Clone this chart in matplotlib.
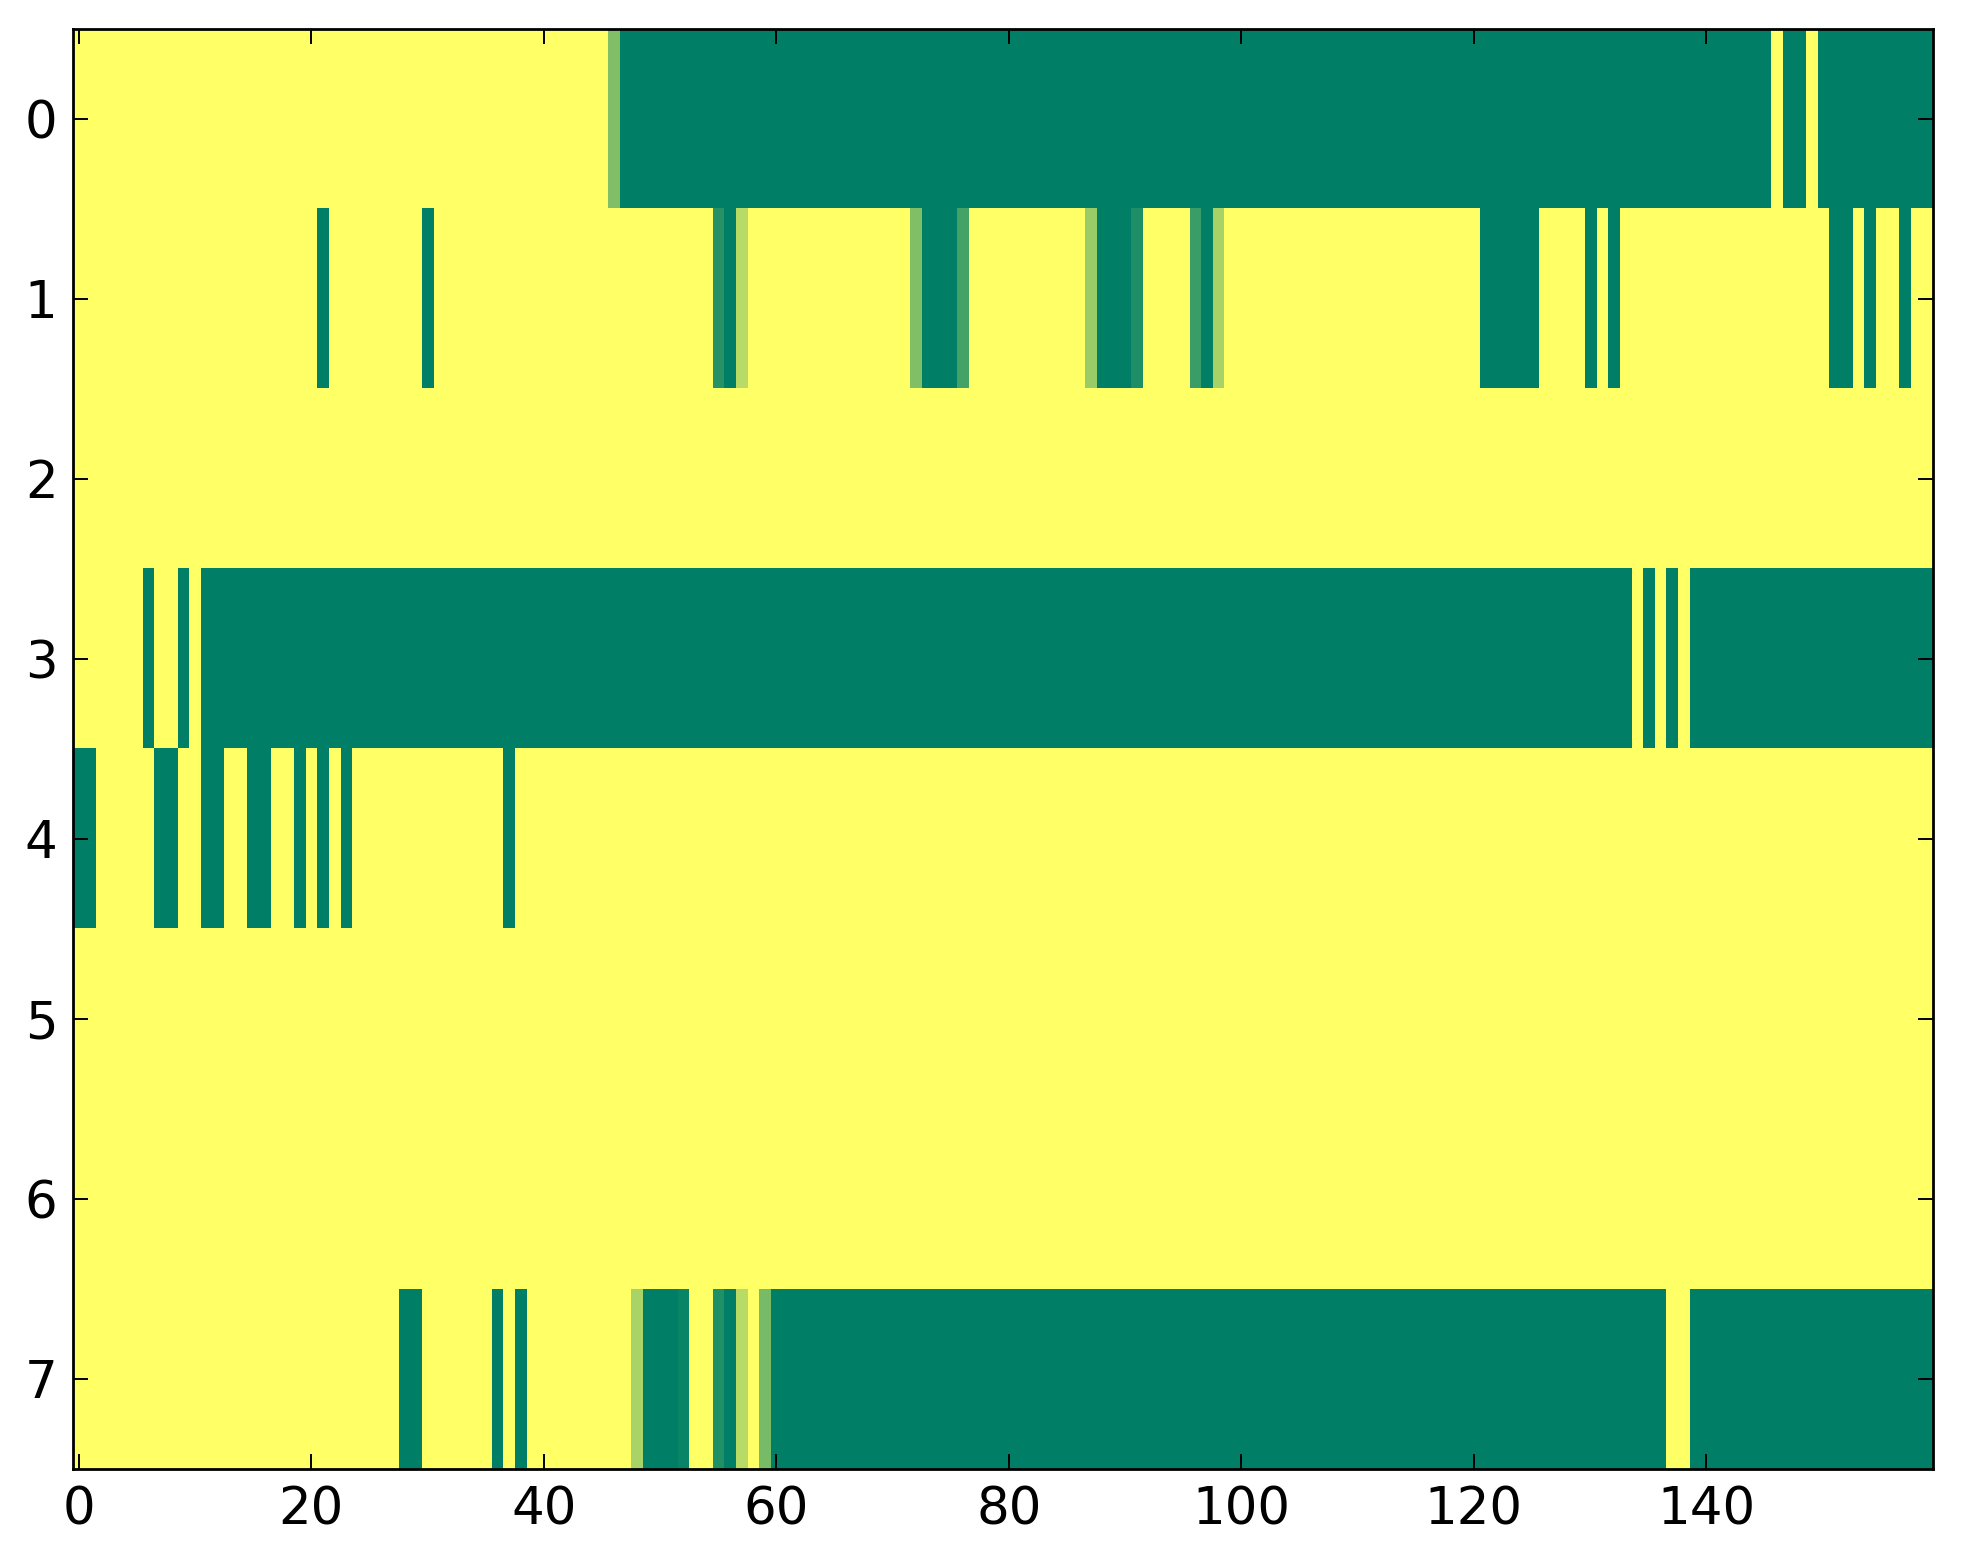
import numpy as np
import matplotlib
matplotlib.use("Agg")
import matplotlib.pyplot as plt

# one row of 160 values per series (0 = green, 1 = yellow)
row0 = [1, 1, 1, 1, 1, 1, 1, 1, 1, 1, 1, 1, 1, 1, 1, 1, 1, 1, 1, 1,
        1, 1, 1, 1, 1, 1, 1, 1, 1, 1, 1, 1, 1, 1, 1, 1, 1, 1, 1, 1,
        1, 1, 1, 1, 1, 1, 0.5, 0, 0, 0, 0, 0, 0, 0, 0, 0, 0, 0, 0, 0,
        0, 0, 0, 0, 0, 0, 0, 0, 0, 0, 0, 0, 0, 0, 0, 0, 0, 0, 0, 0,
        0, 0, 0, 0, 0, 0, 0, 0, 0, 0, 0, 0, 0, 0, 0, 0, 0, 0, 0, 0,
        0, 0, 0, 0, 0, 0, 0, 0, 0, 0, 0, 0, 0, 0, 0, 0, 0, 0, 0, 0,
        0, 0, 0, 0, 0, 0, 0, 0, 0, 0, 0, 0, 0, 0, 0, 0, 0, 0, 0, 0,
        0, 0, 0, 0, 0, 0, 1, 0, 0, 1, 0, 0, 0, 0, 0, 0, 0, 0, 0, 0]

row1 = [1, 1, 1, 1, 1, 1, 1, 1, 1, 1, 1, 1, 1, 1, 1, 1, 1, 1, 1, 1,
        1, 0, 1, 1, 1, 1, 1, 1, 1, 1, 0, 1, 1, 1, 1, 1, 1, 1, 1, 1,
        1, 1, 1, 1, 1, 1, 1, 1, 1, 1, 1, 1, 1, 1, 1, 0.15, 0, 0.72, 1, 1,
        1, 1, 1, 1, 1, 1, 1, 1, 1, 1, 1, 1, 0.5, 0, 0, 0, 0.27, 1, 1, 1,
        1, 1, 1, 1, 1, 1, 1, 0.6, 0, 0, 0, 0.12, 1, 1, 1, 1, 0.23, 0, 0.65, 1,
        1, 1, 1, 1, 1, 1, 1, 1, 1, 1, 1, 1, 1, 1, 1, 1, 1, 1, 1, 1,
        1, 0, 0, 0, 0, 0, 1, 1, 1, 1, 0, 1, 0, 1, 1, 1, 1, 1, 1, 1,
        1, 1, 1, 1, 1, 1, 1, 1, 1, 1, 1, 0, 0, 1, 0, 1, 1, 0, 1, 1]

row2 = [1] * 160

row3 = [1, 1, 1, 1, 1, 1, 0, 1, 1, 0, 1, 0, 0, 0, 0, 0, 0, 0, 0, 0,
        0, 0, 0, 0, 0, 0, 0, 0, 0, 0, 0, 0, 0, 0, 0, 0, 0, 0, 0, 0,
        0, 0, 0, 0, 0, 0, 0, 0, 0, 0, 0, 0, 0, 0, 0, 0, 0, 0, 0, 0,
        0, 0, 0, 0, 0, 0, 0, 0, 0, 0, 0, 0, 0, 0, 0, 0, 0, 0, 0, 0,
        0, 0, 0, 0, 0, 0, 0, 0, 0, 0, 0, 0, 0, 0, 0, 0, 0, 0, 0, 0,
        0, 0, 0, 0, 0, 0, 0, 0, 0, 0, 0, 0, 0, 0, 0, 0, 0, 0, 0, 0,
        0, 0, 0, 0, 0, 0, 0, 0, 0, 0, 0, 0, 0, 0, 1, 0, 1, 0, 1, 0,
        0, 0, 0, 0, 0, 0, 0, 0, 0, 0, 0, 0, 0, 0, 0, 0, 0, 0, 0, 0]

row4 = [0, 0, 1, 1, 1, 1, 1, 0, 0, 1, 1, 0, 0, 1, 1, 0, 0, 1, 1, 0,
        1, 0, 1, 0, 1, 1, 1, 1, 1, 1, 1, 1, 1, 1, 1, 1, 1, 0, 1, 1,
        1, 1, 1, 1, 1, 1, 1, 1, 1, 1, 1, 1, 1, 1, 1, 1, 1, 1, 1, 1,
        1, 1, 1, 1, 1, 1, 1, 1, 1, 1, 1, 1, 1, 1, 1, 1, 1, 1, 1, 1,
        1, 1, 1, 1, 1, 1, 1, 1, 1, 1, 1, 1, 1, 1, 1, 1, 1, 1, 1, 1,
        1, 1, 1, 1, 1, 1, 1, 1, 1, 1, 1, 1, 1, 1, 1, 1, 1, 1, 1, 1,
        1, 1, 1, 1, 1, 1, 1, 1, 1, 1, 1, 1, 1, 1, 1, 1, 1, 1, 1, 1,
        1, 1, 1, 1, 1, 1, 1, 1, 1, 1, 1, 1, 1, 1, 1, 1, 1, 1, 1, 1]

row5 = [1] * 160
row6 = [1] * 160

row7 = [1, 1, 1, 1, 1, 1, 1, 1, 1, 1, 1, 1, 1, 1, 1, 1, 1, 1, 1, 1,
        1, 1, 1, 1, 1, 1, 1, 1, 0, 0, 1, 1, 1, 1, 1, 1, 0, 1, 0, 1,
        1, 1, 1, 1, 1, 1, 1, 1, 0.66, 0, 0, 0, 0.04, 1, 1, 0.13, 0, 0.72, 1, 0.47,
        0, 0, 0, 0, 0, 0, 0, 0, 0, 0, 0, 0, 0, 0, 0, 0, 0, 0, 0, 0,
        0, 0, 0, 0, 0, 0, 0, 0, 0, 0, 0, 0, 0, 0, 0, 0, 0, 0, 0, 0,
        0, 0, 0, 0, 0, 0, 0, 0, 0, 0, 0, 0, 0, 0, 0, 0, 0, 0, 0, 0,
        0, 0, 0, 0, 0, 0, 0, 0, 0, 0, 0, 0, 0, 0, 0, 0, 0, 1, 1, 0,
        0, 0, 0, 0, 0, 0, 0, 0, 0, 0, 0, 0, 0, 0, 0, 0, 0, 0, 0, 0]

data = np.array([row0, row1, row2, row3, row4, row5, row6, row7], dtype=float)

plt.rcParams['font.family'] = ['DejaVu Sans']
plt.rcParams['font.size'] = 37

fig = plt.figure(figsize=(19.63, 15.64), dpi=100, facecolor='white')
ax = fig.add_axes([0.0371, 0.0609, 0.9476, 0.9208])
ax.imshow(data, cmap='summer', vmin=0, vmax=1, interpolation='nearest', aspect='auto')

ax.set_xticks(range(0, 160, 20))
ax.set_yticks(range(8))
ax.tick_params(which='both', direction='in', top=True, right=True,
               length=10.8, width=1.4)
ax.tick_params(axis='x', pad=12)
ax.tick_params(axis='y', pad=11)
for s in ax.spines.values():
    s.set_linewidth(2)

fig.savefig('out.png', dpi=100, facecolor='white')
